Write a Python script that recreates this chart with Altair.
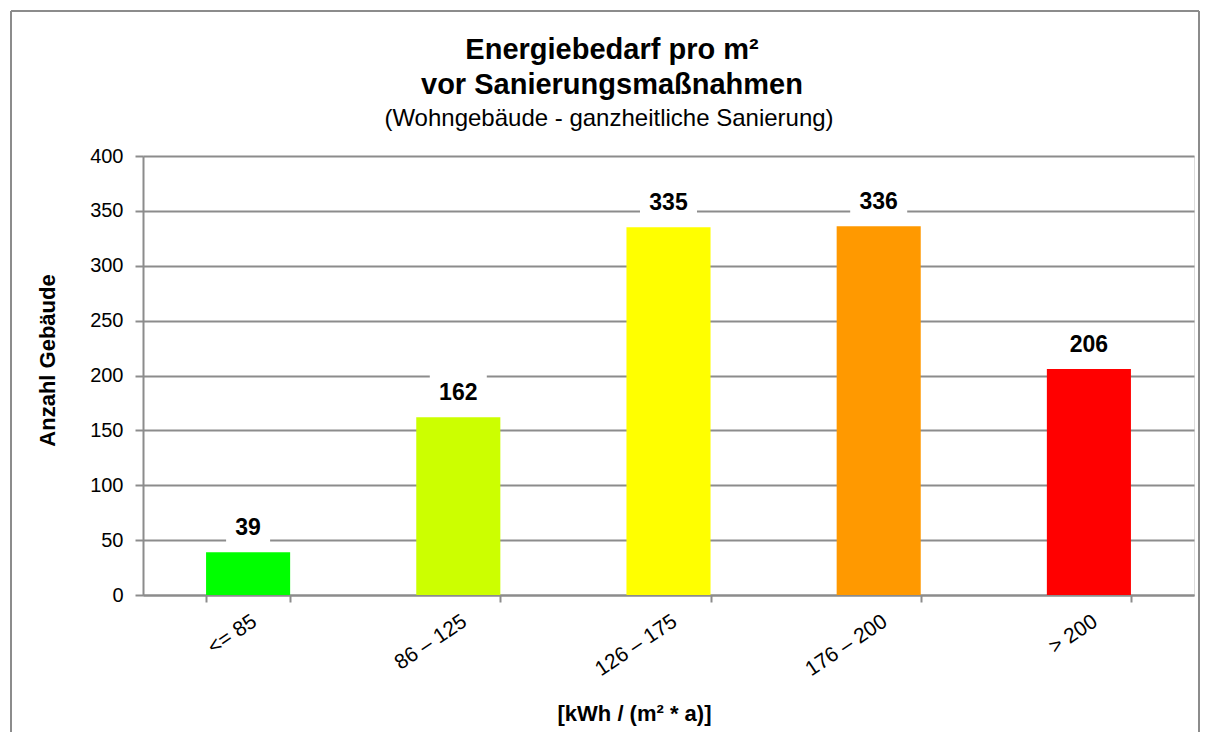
import altair as alt
import pandas as pd

categories = ["<= 85", "86 – 125", "126 – 175", "176 – 200", "> 200"]
values = [39, 162, 335, 336, 206]
bar_colors = ["#00FF00", "#CCFF00", "#FFFF00", "#FF9900", "#FF0000"]
y_ticks = [0, 50, 100, 150, 200, 250, 300, 350, 400]
title_lines = ["Energiebedarf pro m²", "vor Sanierungsmaßnahmen"]
subtitle_text = "(Wohngebäude - ganzheitliche Sanierung)"

FONT = "Liberation Sans"
GRID = "#8c8c8c"

df = pd.DataFrame({"cat": categories, "val": values, "color": bar_colors})
df["label"] = df["val"].astype(str)
df["boxw"] = df["label"].str.len() * 13 + 18

x_enc = alt.X(
    "cat:N", sort=categories,
    scale=alt.Scale(paddingInner=0.6, paddingOuter=0.3),
    axis=alt.Axis(
        title="[kWh / (m² * a)]", labelAngle=-34, labelAlign="right", labelBaseline="top",
        labelFontSize=21, labelPadding=8, labelFont=FONT, labelColor="black",
        tickBand="extent", tickSize=7, tickColor=GRID, tickWidth=2,
        domainColor=GRID, domainWidth=2, grid=False,
        titleFont=FONT, titleFontSize=22, titleFontWeight="bold", titleColor="black",
        titleX=491, titleY=125, titleBaseline="alphabetic", titleAlign="center",
    ),
)
y_enc = alt.Y(
    "val:Q", scale=alt.Scale(domain=[0, 400]),
    axis=alt.Axis(
        values=y_ticks, title="Anzahl Gebäude", grid=True, gridColor=GRID, gridWidth=2,
        tickSize=8, tickColor=GRID, tickWidth=2, domainColor=GRID, domainWidth=2,
        labelFontSize=20, labelPadding=12, labelFont=FONT, labelColor="black",
        titleFont=FONT, titleFontSize=22, titleFontWeight="bold", titleColor="black",
        titleX=-96, titleY=204, titleBaseline="middle", titleAlign="center", titleAngle=-90,
    ),
)

base = alt.Chart(df)

bars = base.mark_bar().encode(
    x=x_enc, y=y_enc, color=alt.Color("color:N", scale=None)
)

boxes = base.mark_bar(color="white", yOffset=-8, y2Offset=-45).encode(
    x=alt.X("cat:N", sort=categories),
    y=alt.Y("val:Q"),
    y2=alt.Y2("val"),
    size=alt.Size("boxw:Q", scale=None),
)

labels = base.mark_text(
    dy=-17, baseline="alphabetic", fontSize=23, fontWeight="bold", font=FONT, color="black"
).encode(
    x=alt.X("cat:N", sort=categories), y=alt.Y("val:Q"), text="label:N"
)

one = alt.Chart(pd.DataFrame({"k": [0]}))
title1 = one.mark_text(font=FONT, fontSize=29, fontWeight="bold", color="black",
                       align="center", baseline="alphabetic", text=title_lines[0]).encode(
    x=alt.value(469), y=alt.value(-97)
)
title2 = one.mark_text(font=FONT, fontSize=29, fontWeight="bold", color="black",
                       align="center", baseline="alphabetic", text=title_lines[1]).encode(
    x=alt.value(469), y=alt.value(-62)
)
subtitle = one.mark_text(font=FONT, fontSize=24, color="black",
                         align="center", baseline="alphabetic", text=subtitle_text).encode(
    x=alt.value(466), y=alt.value(-30)
)

border_top = one.mark_rule(color=GRID, strokeWidth=2).encode(
    x=alt.value(-132), x2=alt.value(1056), y=alt.value(-145)
)
border_left = one.mark_rule(color=GRID, strokeWidth=2).encode(
    x=alt.value(-132), y=alt.value(-145), y2=alt.value(576)
)
border_right = one.mark_rule(color=GRID, strokeWidth=2).encode(
    x=alt.value(1056), y=alt.value(-145), y2=alt.value(576)
)

chart = alt.layer(
    bars, boxes, labels, title1, title2, subtitle, border_top, border_left, border_right
).properties(
    width=1051,
    height=439,
    padding={"left": 135, "top": 148, "right": 7, "bottom": 137},
    autosize=alt.AutoSizeParams(type="none"),
).configure_view(stroke=None).configure(background="white")

chart.save("out.html", embed_options={"renderer": "svg", "actions": False})
